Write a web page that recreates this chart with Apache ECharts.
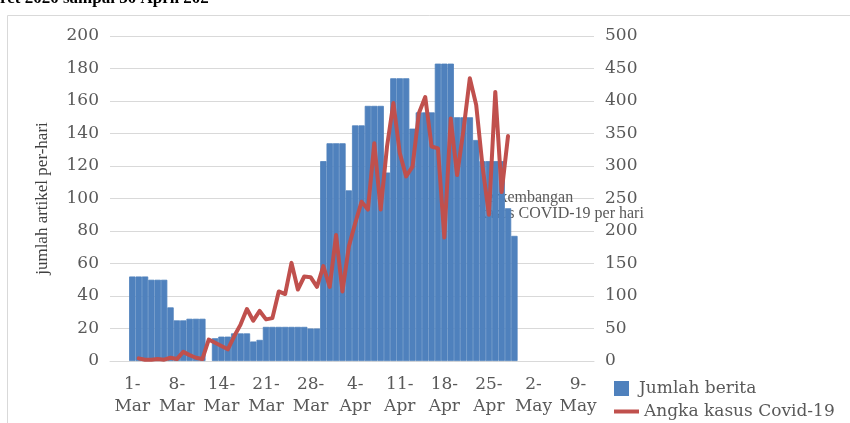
<!DOCTYPE html>
<html>
<head>
<meta charset="utf-8">
<script src="https://cdn.jsdelivr.net/npm/echarts@6/dist/echarts.min.js"></script>
<style>
  html, body { margin: 0; padding: 0; background: #fff; }
  #chart { width: 850px; height: 423px; }
</style>
</head>
<body>
<div id="chart"></div>
<script>
  // x axis: one category per day, 27 Feb .. 12 May 2020
  const monthNames = ['Jan', 'Feb', 'Mar', 'Apr', 'May']
  const days = []
  for (let i = 0; i < 76; i++) {
    const d = new Date(2020, 1, 27 + i)
    days.push(d.getDate() + '-' + monthNames[d.getMonth()])
  }
  const xTickLabels = ['1-Mar', '8-Mar', '14-Mar', '21-Mar', '28-Mar', '4-Apr', '11-Apr', '18-Apr', '25-Apr', '2-May', '9-May']
  const firstTick = 3  // index of 1-Mar
  const tickStep = 7

  // jumlah berita per hari, 1 Mar .. 30 Apr
  const newsStart = '1-Mar'
  const newsCounts = [
    52, 52, 52, 50, 50, 50, 33, 25, 25, 26, 26, 26, null, 14, 15, 15,
    17, 17, 17, 12, 13, 21, 21, 21, 21, 21, 21, 21, 20, 20, 123,
    134, 134, 134, 105, 145, 145, 157, 157, 157, 116, 174, 174, 174, 143,
    153, 153, 153, 183, 183, 183, 150, 150, 150, 136, 123, 123, 123, 123, 94, 77
  ]

  // angka kasus covid-19 per hari, 2 Mar .. 29 Apr
  const casesStart = '2-Mar'
  const covidCases = [
    4, 2, 2, 3, 2, 5, 3, 14, 9, 5, 3, 33, 28, 23, 18, 38, 56, 80, 62, 77,
    64, 66, 107, 103, 151, 110, 130, 129, 114, 146, 114, 194, 107, 176, 212,
    245, 233, 335, 233, 330, 397, 320, 284, 299, 381, 406, 330, 327, 190, 373,
    286, 355, 435, 394, 299, 225, 414, 260, 346
  ]

  const alignTo = (values, start) => {
    const offset = days.indexOf(start)
    return days.map((d, i) => {
      const j = i - offset
      return j >= 0 && j < values.length ? values[j] : null
    })
  }

  const labelFont = 'DejaVu Serif'
  const textColor = '#595959'
  const gridColor = '#d9d9d9'
  const barColor = '#4F81BD'
  const lineColor = '#C0504D'
  const legendText = { fontFamily: labelFont, fontSize: 17, color: textColor }

  const option = {
    animation: false,
    graphic: [
      {
        type: 'rect',
        z: 0,
        shape: { x: 7.5, y: 15.5, width: 900, height: 500 },
        style: { fill: 'none', stroke: gridColor, lineWidth: 1 }
      },
      {
        type: 'text',
        z: 5,
        x: 0,
        y: -1,
        style: {
          text: 'ret 2020 sampai 30 April 202',
          font: 'bold 17px "Liberation Serif"',
          fill: '#000',
          verticalAlign: 'middle'
        }
      },
      {
        // right axis title, sits behind the bars
        type: 'text',
        z: 1,
        x: 479,
        y: 190,
        style: {
          text: 'perkembangan\nkasus COVID-19 per hari',
          font: '16px "Liberation Serif"',
          lineHeight: 16,
          fill: textColor
        }
      }
    ],
    grid: {
      left: 110,
      right: 256,
      top: 36,
      bottom: 62
    },
    legend: [
      {
        left: 614,
        top: 380,
        padding: 0,
        itemWidth: 25,
        itemHeight: 13,
        textStyle: legendText,
        data: [{ name: 'Jumlah berita', icon: 'path://M0,0H10V10H0Z' }]
      },
      {
        left: 614,
        top: 403,
        padding: 0,
        itemWidth: 25,
        itemHeight: 13,
        textStyle: legendText,
        data: [{ name: 'Angka kasus Covid-19', icon: 'path://M0,0H25V4H0Z' }]
      }
    ],
    xAxis: {
      type: 'category',
      data: days,
      axisLine: { lineStyle: { color: gridColor } },
      axisTick: { show: false },
      axisLabel: {
        interval: (index) => index >= firstTick && (index - firstTick) % tickStep === 0,
        formatter: (value, index) => {
          const k = (index - firstTick) / tickStep
          return (xTickLabels[k] || value).replace('-', '-\n')
        },
        fontFamily: labelFont,
        fontSize: 17,
        lineHeight: 22,
        color: textColor,
        margin: 13
      }
    },
    yAxis: [
      {
        type: 'value',
        min: 0,
        max: 200,
        interval: 20,
        name: 'jumlah artikel per-hari',
        nameLocation: 'middle',
        nameRotate: 90,
        nameGap: 59,
        nameTextStyle: { fontFamily: 'Liberation Serif', fontSize: 17, color: '#404040' },
        axisLabel: { fontFamily: labelFont, fontSize: 17, color: textColor, margin: 11 },
        splitLine: { lineStyle: { color: gridColor } }
      },
      {
        type: 'value',
        min: 0,
        max: 500,
        interval: 50,
        axisLabel: { fontFamily: labelFont, fontSize: 17, color: textColor, margin: 11 },
        splitLine: { show: false }
      }
    ],
    series: [
      {
        name: 'Jumlah berita',
        type: 'bar',
        yAxisIndex: 0,
        z: 2,
        barCategoryGap: '0%',
        itemStyle: { color: barColor, borderColor: barColor, borderWidth: 0.8 },
        data: alignTo(newsCounts, newsStart)
      },
      {
        name: 'Angka kasus Covid-19',
        type: 'line',
        yAxisIndex: 1,
        z: 3,
        symbol: 'none',
        lineStyle: { color: lineColor, width: 4, join: 'round', cap: 'round' },
        itemStyle: { color: lineColor },
        data: alignTo(covidCases, casesStart)
      }
    ]
  }

  const myChart = echarts.init(document.getElementById('chart'))
  myChart.setOption(option)

  window.addEventListener('resize', () => {
    myChart.resize()
  })
</script>
</body>
</html>
